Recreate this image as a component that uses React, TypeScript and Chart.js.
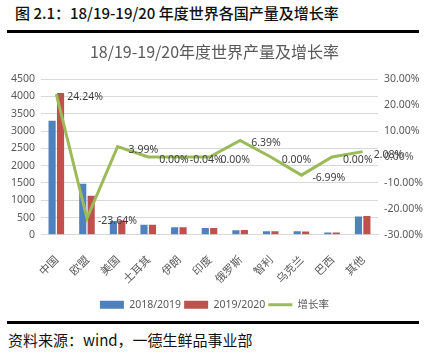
import React, { useEffect, useRef } from "react";
import { Chart, registerables } from "chart.js";

Chart.register(...registerables);

const categories = ["中国", "欧盟", "美国", "土耳其", "伊朗", "印度", "俄罗斯", "智利", "乌克兰", "巴西", "其他"];
const prod2018 = [3300, 1480, 400, 290, 220, 200, 130, 100, 100, 70, 530];
const prod2019 = [4100, 1130, 416, 290, 220, 200, 138, 100, 93, 70, 541];
const growth = [24.24, -23.64, 3.99, 0.0, -0.04, 0.0, 6.39, 0.0, -6.99, 0.0, 2.08];
const growthLabels = ["24.24%", "-23.64%", "3.99%", "0.00%", "-0.04%", "0.00%", "6.39%", "0.00%", "-6.99%", "0.00%", "2.08%"];

const FONT = "'Noto Sans', 'Noto Sans CJK SC', sans-serif";
const CJK = "'Noto Sans CJK SC', sans-serif";

const labelPlugin = {
  id: "lineLabels",
  afterDatasetsDraw(chart: any) {
    const meta = chart.getDatasetMeta(2);
    const ctx = chart.ctx;
    ctx.save();
    ctx.font = `10.5px ${FONT}`;
    ctx.fillStyle = "#404040";
    ctx.textAlign = "left";
    ctx.textBaseline = "middle";
    meta.data.forEach((pt: any, i: number) => {
      ctx.fillText(growthLabels[i], pt.x + 11, pt.y + 3);
    });
    ctx.restore();
  },
};

export default function App() {
  const ref = useRef<HTMLCanvasElement>(null);
  useEffect(() => {
    if (!ref.current) return;
    const chart = new Chart(ref.current, {
      type: "bar",
      data: {
        labels: categories,
        datasets: [
          {
            label: "2018/2019",
            data: prod2018,
            backgroundColor: "#4F81BD",
            yAxisID: "y",
            order: 2,
            categoryPercentage: 0.55,
            barPercentage: 0.85,
            pointStyle: "rect",
          } as any,
          {
            label: "2019/2020",
            data: prod2019,
            backgroundColor: "#C0504D",
            yAxisID: "y",
            order: 2,
            categoryPercentage: 0.55,
            barPercentage: 0.85,
            pointStyle: "rect",
          } as any,
          {
            type: "line",
            label: "增长率",
            data: growth,
            borderColor: "#9BBB59",
            backgroundColor: "#9BBB59",
            borderWidth: 3,
            pointRadius: 0,
            pointStyle: "line",
            yAxisID: "y1",
            order: 1,
            tension: 0,
          } as any,
        ],
      },
      options: {
        animation: false,
        responsive: false,
        layout: { padding: { left: 0, right: 0, top: 2, bottom: 0 } },
        plugins: {
          title: {
            display: true,
            text: "18/19-19/20年度世界产量及增长率",
            color: "#595959",
            font: { size: 16, family: CJK, weight: "normal" },
            padding: { top: 4, bottom: 18 },
          },
          legend: {
            position: "bottom",
            labels: {
              usePointStyle: true,
              pointStyleWidth: 24,
              boxHeight: 8,
              color: "#595959",
              font: { size: 10.5, family: FONT },
              padding: 3,
              sort: (a: any, b: any) => a.datasetIndex - b.datasetIndex,
            },
          },
          tooltip: { enabled: false },
        },
        scales: {
          x: {
            grid: { display: false },
            border: { color: "#d9d9d9" },
            ticks: {
              color: "#595959",
              font: { size: 11, family: CJK },
              maxRotation: 45,
              minRotation: 45,
              padding: 10,
            },
            afterFit: (scale: any) => {
              scale.height += 1;
            },
          },
          y: {
            position: "left",
            min: 0,
            max: 4500,
            ticks: {
              stepSize: 500,
              color: "#595959",
              font: { size: 10.5, family: FONT },
              padding: 6,
              callback: (v: any) => String(v),
            },
            grid: { color: "#d9d9d9", drawTicks: false },
            border: { display: false },
            afterFit: (scale: any) => {
              scale.width = 41;
            },
          },
          y1: {
            position: "right",
            min: -30,
            max: 30,
            ticks: {
              stepSize: 10,
              color: "#595959",
              font: { size: 10.5, family: FONT },
              padding: 6,
              callback: (v: any) => `${Number(v).toFixed(2)}%`,
            },
            grid: { display: false, drawTicks: false },
            border: { display: false },
            afterFit: (scale: any) => {
              scale.width = 51;
            },
          },
        },
      } as any,
      plugins: [labelPlugin],
    });
    return () => chart.destroy();
  }, []);

  return (
    <div style={{ position: "fixed", left: 0, top: 0, width: 429, height: 353, background: "#fff", overflow: "hidden" }}>
      <div style={{ position: "absolute", left: 15, top: 2, fontFamily: CJK, fontSize: 15, fontWeight: 500, color: "#111", whiteSpace: "nowrap" }}>
        图 2.1：18/19-19/20 年度世界各国产量及增长率
      </div>
      <div style={{ position: "absolute", left: 7, top: 30, width: 412, height: 3, background: "#000" }} />
      <canvas ref={ref} width={429} height={284} style={{ position: "absolute", left: 0, top: 36, width: 429, height: 284 }} />
      <div style={{ position: "absolute", left: 7, top: 321, width: 412, height: 3, background: "#000" }} />
      <div style={{ position: "absolute", left: 8, top: 329, fontFamily: CJK, fontSize: 15, color: "#111", whiteSpace: "nowrap" }}>
        资料来源：wind，一德生鲜品事业部
      </div>
    </div>
  );
}
